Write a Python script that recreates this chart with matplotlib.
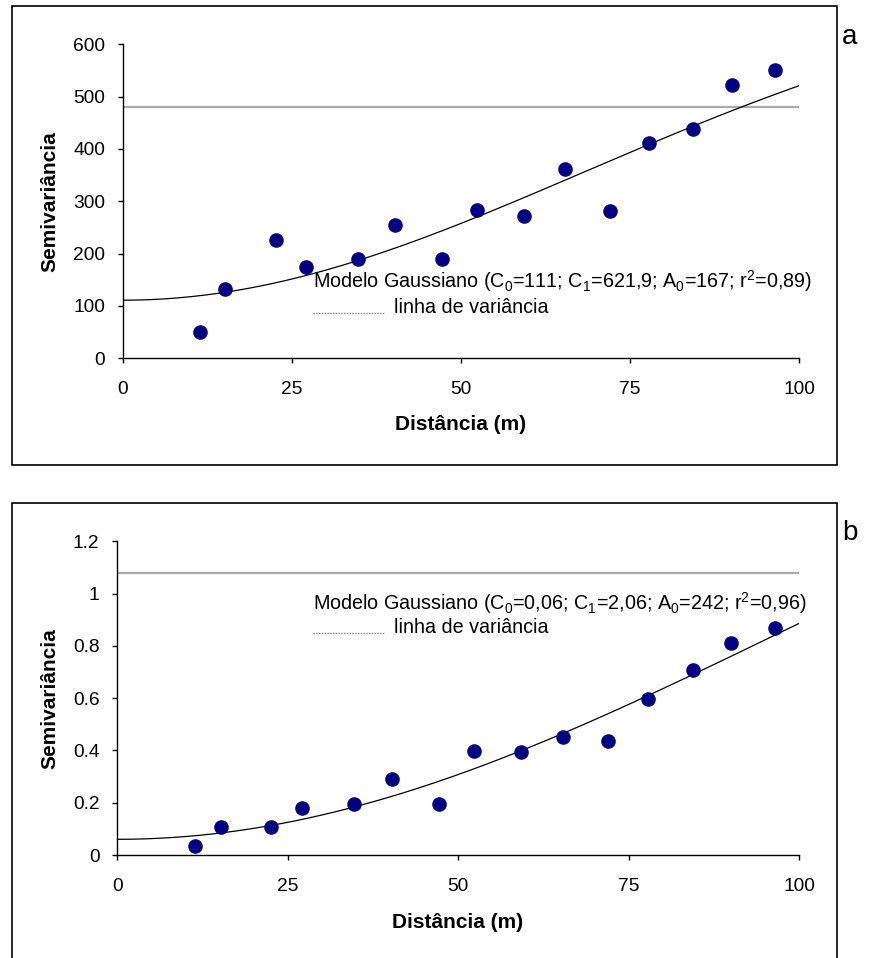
import numpy as np
import matplotlib
matplotlib.use("Agg")
import matplotlib.pyplot as plt
from matplotlib.patches import Rectangle
from matplotlib.lines import Line2D

plt.rcParams['font.family'] = ['Liberation Sans', 'DejaVu Sans']
plt.rcParams['mathtext.fontset'] = 'custom'
plt.rcParams['mathtext.rm'] = 'Liberation Sans'
plt.rcParams['mathtext.it'] = 'Liberation Sans:italic'
plt.rcParams['mathtext.bf'] = 'Liberation Sans:bold'

# ---------------- data ----------------
distancia = [11.4, 15.2, 22.6, 27.1, 34.8, 40.3, 47.2, 52.4, 59.3, 65.4, 72.0, 77.8, 84.4, 90.1, 96.5]
semivar_a = [51, 132, 227, 175, 189, 255, 189, 283, 271, 361, 282, 411, 438, 522, 550]
semivar_b = [0.034, 0.106, 0.108, 0.179, 0.194, 0.291, 0.194, 0.399, 0.394, 0.453, 0.435, 0.596, 0.708, 0.812, 0.870]

variancia_a = 481
variancia_b = 1.08

# Gaussian model parameters (C0, C1, A0)
modelo_a = (111, 621.9, 167)
modelo_b = (0.06, 2.06, 242)

legenda_a = "Modelo Gaussiano (C$_0$=111; C$_1$=621,9; A$_0$=167; r$^2$=0,89)"
legenda_b = "Modelo Gaussiano (C$_0$=0,06; C$_1$=2,06; A$_0$=242; r$^2$=0,96)"
legenda_var = "linha de variância"

xticks = [0, 25, 50, 75, 100]
yticks_a = [0, 100, 200, 300, 400, 500, 600]
yticks_b = [0, 0.2, 0.4, 0.6, 0.8, 1.0, 1.2]
yticklabels_b = ["0", "0.2", "0.4", "0.6", "0.8", "1", "1.2"]

W, H = 877, 958
fig = plt.figure(figsize=(W / 100, H / 100), dpi=100)


def fx(px):
    return px / W


def fy(py):
    return 1 - py / H


def gauss(h, c0, c1, a0):
    return c0 + c1 * (1 - np.exp(-3 * (h / a0) ** 2))


def panel(left, right, top, bottom, dist, semi, var, modelo, yticks, yticklabels,
          ylim, leg_text, leg_base1, leg_base2, panel_letter, letter_y, ylabel_x, xlabel_y):
    ax = fig.add_axes([fx(left), fy(bottom), fx(right) - fx(left), fy(top) - fy(bottom)])
    ax.set_xlim(0, 100)
    ax.set_ylim(*ylim)
    for s in ['top', 'right']:
        ax.spines[s].set_visible(False)
    for s in ['left', 'bottom']:
        ax.spines[s].set_linewidth(1.0)
        ax.spines[s].set_color('black')
    ax.set_xticks(xticks)
    ax.set_xticklabels([str(t) for t in xticks])
    ax.set_yticks(yticks)
    ax.set_yticklabels(yticklabels)
    ax.tick_params(axis='both', direction='out', length=3.6, width=1.0, labelsize=13.8)
    ax.tick_params(axis='x', pad=13)
    ax.tick_params(axis='y', pad=9)

    h = np.linspace(0, 100, 200)
    ax.plot([0, 100], [var, var], color='#aaaaaa', lw=1.6, zorder=2)
    ax.plot(h, gauss(h, *modelo), color='black', lw=0.9, zorder=3)
    ax.plot(dist, semi, 'o', color='#000080', markersize=10.5, markeredgewidth=0, zorder=4)

    ax.set_xlabel("Distância (m)", fontsize=15, fontweight='bold')
    ax.set_ylabel("Semivariância", fontsize=15, fontweight='bold')
    ax.xaxis.label.set_va('center')
    ax.yaxis.label.set_va('center')
    ax.xaxis.set_label_coords(0.5, xlabel_y)
    ax.yaxis.set_label_coords(ylabel_x, 0.5)

    # legend (manual, as in the original)
    fig.text(fx(313), fy(leg_base1), leg_text, fontsize=14.2, va='baseline', ha='left')
    fig.add_artist(Line2D([fx(313), fx(384)], [fy(leg_base2), fy(leg_base2)],
                          transform=fig.transFigure, color='#808080', lw=1.0,
                          linestyle=(0, (1, 1))))
    fig.text(fx(394), fy(leg_base2), legenda_var, fontsize=14.2, va='baseline', ha='left')

    fig.text(fx(850), fy(letter_y), panel_letter, fontsize=20, ha='center', va='center')
    return ax


# frames
fig.add_artist(Rectangle((fx(12), fy(465)), fx(837) - fx(12), fy(6) - fy(465),
                         transform=fig.transFigure, fill=False, edgecolor='black', lw=1.2))
fig.add_artist(Rectangle((fx(12), -0.05), fx(837) - fx(12), fy(503) + 0.05,
                         transform=fig.transFigure, fill=False, edgecolor='black', lw=1.2))

panel(122.7, 799, 44.3, 358.3, distancia, semivar_a, variancia_a, modelo_a,
      yticks_a, [str(t) for t in yticks_a], (0, 600), legenda_a, 288, 313, 'a', 37,
      -0.1075, -0.2124)
panel(117.1, 799, 541.3, 855, distancia, semivar_b, variancia_b, modelo_b,
      yticks_b, yticklabels_b, (0, 1.2), legenda_b, 610, 633, 'b', 533,
      -0.0984, -0.215)

fig.savefig("out.png", dpi=100)
